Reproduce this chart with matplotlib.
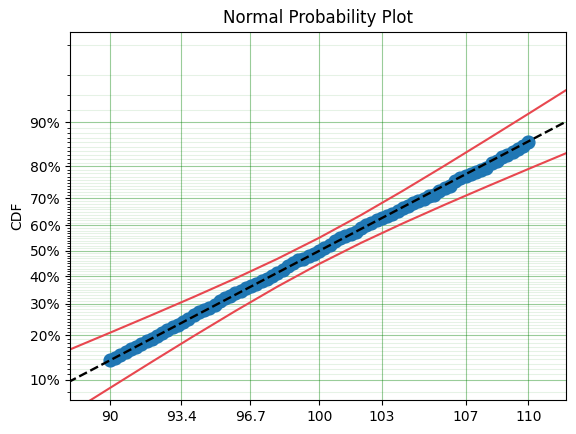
import math

import matplotlib
matplotlib.use("Agg")
import matplotlib.pyplot as plt
import numpy as np
from matplotlib.ticker import NullFormatter, NullLocator

# observed data (value, plotting-position CDF)
data_x = [
    90.00, 90.25, 90.50, 90.75, 91.00, 91.25, 91.50, 91.75, 92.00, 92.25,
    92.50, 92.75, 93.00, 93.25, 93.50, 93.75, 94.00, 94.25, 94.50, 94.75,
    95.00, 95.25, 95.50, 95.75, 96.00, 96.25, 96.50, 96.75, 97.00, 97.25,
    97.50, 97.75, 98.00, 98.25, 98.50, 98.75, 99.00, 99.25, 99.50, 99.75,
    100.00, 100.25, 100.50, 100.75, 101.00, 101.25, 101.50, 101.75, 102.00, 102.25,
    102.50, 102.75, 103.00, 103.25, 103.50, 103.75, 104.00, 104.25, 104.50, 104.75,
    105.00, 105.25, 105.50, 105.75, 106.00, 106.25, 106.50, 106.75, 107.00, 107.25,
    107.50, 107.75, 108.00, 108.25, 108.50, 108.75, 109.00, 109.25, 109.50, 109.75,
    110.00,
]
data_cdf = [
    0.1378, 0.1439, 0.1503, 0.1570, 0.1636, 0.1702, 0.1770, 0.1840, 0.1912, 0.1990,
    0.2070, 0.2150, 0.2228, 0.2305, 0.2390, 0.2478, 0.2612, 0.2700, 0.2790, 0.2850,
    0.2935, 0.3080, 0.3178, 0.3270, 0.3360, 0.3460, 0.3560, 0.3630, 0.3715, 0.3810,
    0.3890, 0.4025, 0.4140, 0.4250, 0.4410, 0.4520, 0.4620, 0.4690, 0.4790, 0.4895,
    0.5000, 0.5120, 0.5240, 0.5380, 0.5510, 0.5590, 0.5670, 0.5765, 0.5900, 0.6010,
    0.6100, 0.6190, 0.6290, 0.6370, 0.6450, 0.6560, 0.6650, 0.6730, 0.6820, 0.6890,
    0.6975, 0.7060, 0.7120, 0.7230, 0.7330, 0.7410, 0.7580, 0.7670, 0.7720, 0.7790,
    0.7850, 0.7900, 0.7960, 0.8080, 0.8150, 0.8250, 0.8310, 0.8380, 0.8440, 0.8530,
    0.8610,
]

# fitted normal CDF and confidence bounds
fit_x = [88, 92, 96, 100, 104, 108, 112]
fit_cdf = [0.0953, 0.1915, 0.3314, 0.5000, 0.6686, 0.8085, 0.9047]

bound_x = [88, 90, 92, 94, 96, 98, 100, 102, 104, 106, 108, 110, 112]
upper_cdf = [0.1611, 0.2074, 0.2614, 0.3230, 0.3920, 0.4683, 0.5517,
             0.6393, 0.7252, 0.8021, 0.8656, 0.9139, 0.9481]
lower_cdf = [0.0519, 0.0860, 0.1344, 0.1979, 0.2748, 0.3607, 0.4483,
             0.5317, 0.6079, 0.6770, 0.7386, 0.7926, 0.8389]

x_ticks = [90, 93.4, 96.7, 100, 103, 107, 110]
x_labels = ["90", "93.4", "96.7", "100", "103", "107", "110"]
y_ticks = [0.1, 0.2, 0.3, 0.4, 0.5, 0.6, 0.7, 0.8, 0.9]
y_labels = ["10%", "20%", "30%", "40%", "50%", "60%", "70%", "80%", "90%"]
y_minor = ([0.02, 0.04, 0.06, 0.08]
           + [round(0.1 + 0.01 * i, 2) for i in range(81)]
           + [0.92, 0.94, 0.96, 0.98])

_erf = np.vectorize(math.erf)


def _cdf(z):
    z = np.asarray(z, dtype=float)
    return 0.5 * (1.0 + _erf(z / math.sqrt(2.0)))


def _ppf(p):
    p = np.clip(np.asarray(p, dtype=float), 1e-12, 1 - 1e-12)
    lo = np.full(p.shape, -9.0)
    hi = np.full(p.shape, 9.0)
    for _ in range(55):
        mid = 0.5 * (lo + hi)
        below = _cdf(mid) < p
        lo = np.where(below, mid, lo)
        hi = np.where(below, hi, mid)
    return 0.5 * (lo + hi)


fig, ax = plt.subplots(figsize=(5.76, 4.34), dpi=100)
fig.subplots_adjust(left=0.1215, right=0.9826, bottom=0.078, top=0.927)
ax.set_yscale("function", functions=(_ppf, _cdf))

ax.plot(data_x, data_cdf, "o", color="#1f77b4", markersize=9.2, zorder=3)
ax.plot(fit_x, fit_cdf, color="black", ls="--", lw=1.7, zorder=4)
ax.plot(bound_x, upper_cdf, color="#e8474f", lw=1.5, zorder=2)
ax.plot(bound_x, lower_cdf, color="#e8474f", lw=1.5, zorder=2)

ax.set_xticks(x_ticks, x_labels)
ax.xaxis.set_minor_locator(NullLocator())
ax.set_yticks(y_ticks, y_labels)
ax.set_yticks(y_minor, minor=True)
ax.yaxis.set_minor_formatter(NullFormatter())
# limits after the ticks, so set_yticks cannot widen them
ax.set_xlim(88.09, 111.8)
ax.set_ylim(0.0685, 0.9855)

ax.grid(True, which="major", color="g", alpha=0.4, ls="-")
ax.grid(True, which="minor", axis="y", color="g", alpha=0.1, ls="-")
ax.set_axisbelow(True)

ax.set_ylabel("CDF")
ax.set_title("Normal Probability Plot")

fig.savefig("out.png", dpi=100)
